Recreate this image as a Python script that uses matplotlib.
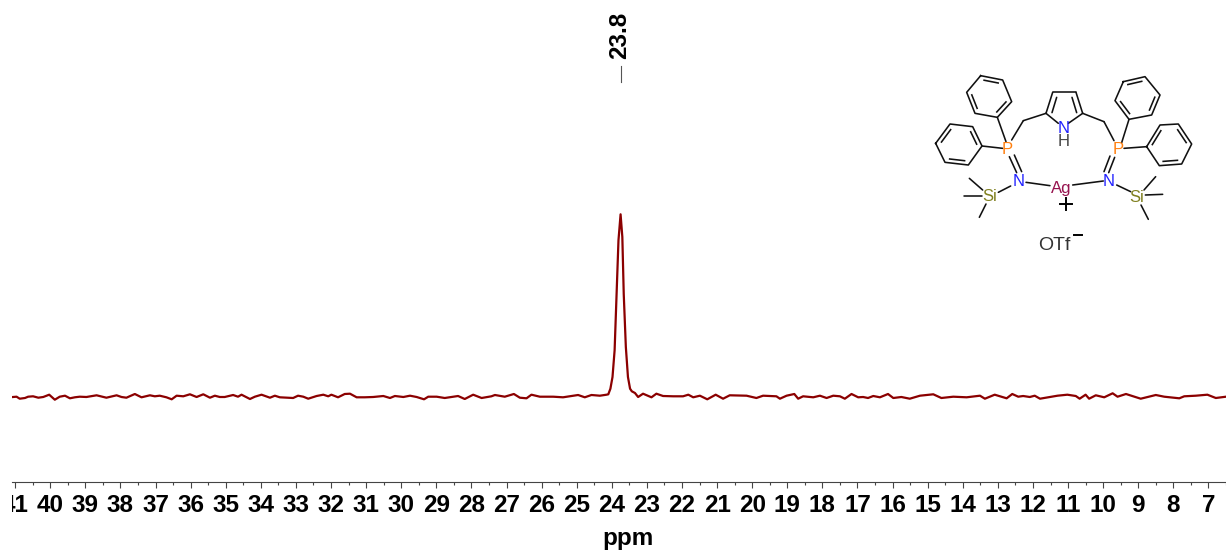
import numpy as np
import matplotlib
matplotlib.use("Agg")
import matplotlib.pyplot as plt
from matplotlib.ticker import MultipleLocator
from matplotlib.transforms import Bbox, TransformedBbox

plt.rcParams["font.family"] = ["Liberation Sans", "DejaVu Sans"]

# trace, intensity in arbitrary units above the baseline
ppm_left = [41.06, 40.96, 40.87, 40.72, 40.63, 40.49, 40.34, 40.20, 40.03, 39.87, 39.73, 39.58, 39.44, 39.30, 39.16,
            38.97, 38.68, 38.40, 38.11, 37.97, 37.83, 37.59, 37.40, 37.16, 37.02, 36.88, 36.69, 36.54, 36.40, 36.21,
            36.02, 35.83, 35.64, 35.45, 35.31, 35.17, 35.03, 34.79, 34.65, 34.55, 34.31, 34.17, 33.98, 33.74, 33.60,
            33.46, 33.08, 32.94, 32.79, 32.65, 32.41, 32.22, 32.08, 31.99, 31.80, 31.61, 31.46, 31.27, 31.04, 30.80,
            30.51, 30.32, 30.18, 29.94, 29.75, 29.56, 29.35, 29.23, 28.99, 28.76, 28.52, 28.38, 28.19, 27.95, 27.71,
            27.43, 27.33, 27.05, 26.79, 26.62, 26.43, 26.29, 26.05, 25.67, 25.39, 24.96, 24.77, 24.58, 24.34, 24.15]
int_left = [0, 0.3, -1.7, -1, 0.3, 0.7, -0.7, 0, 2.3, -2.7, 0.3, 1.3, -1.3, -0.3, 0.3,
            0, 1.7, -0.7, 1.7, 0, -0.7, 3, -0.3, 1.7, 0.7, 1.3, -0.3, -2.3, 1.3, 0.7,
            2.7, 0, 2.7, -0.7, 1.3, 0, 0, 2, 0.3, 2.3, -2, 0.3, 2.3, -0.7, 1.3,
            -0.3, -1, 1.3, 0.3, -1.7, 1, 2.3, 0.7, 2.3, -0.3, 3, 3.3, -0.3, -0.3, 0,
            1, -1, 1, 0, 1.3, 0, -2.3, 0.3, 0.3, -1, 0.3, 1, -2, 2.3, -1,
            0.7, 2, 0.3, 3, -0.7, -1.3, 2.3, 0.3, 0.3, -0.3, 2, -0.3, 2, 1.3, 2.3]

ppm_peak = [24.10, 24.04, 23.98, 23.92, 23.87, 23.81, 23.75, 23.70, 23.66, 23.60, 23.54, 23.48, 23.43, 23.34, 23.25,
            23.11, 22.87, 22.73, 22.54]
int_peak = [2.7, 8.3, 20, 46.7, 96.7, 156.7, 182.7, 160, 103, 50, 20, 8.3, 5.7, 4, 0,
            3.3, -0.3, 3.3, 1]

ppm_right = [22.25, 21.97, 21.82, 21.68, 21.49, 21.28, 21.04, 20.83, 20.64, 20.16, 19.88, 19.69, 19.31, 19.21, 19.02,
             18.80, 18.69, 18.55, 18.26, 18.07, 17.88, 17.69, 17.50, 17.36, 17.17, 16.98, 16.84, 16.70, 16.55, 16.36,
             16.13, 15.98, 15.75, 15.51, 15.22, 14.84, 14.61, 14.27, 13.89, 13.51, 13.37, 13.09, 12.75, 12.59, 12.42,
             12.28, 12.09, 11.95, 11.80, 11.52, 11.30, 11.02, 10.78, 10.67, 10.50, 10.40, 10.21, 9.97, 9.73, 9.59,
             9.35, 8.93, 8.50, 8.26, 7.83, 7.69, 7.36, 7.03, 6.79, 6.50]
int_right = [0.7, 0.7, 2.3, -0.3, 1.3, -2.3, 2.3, -1.7, 1.7, 1.3, -1, 1.3, 0.7, -1.7 + 0, 1.3,
             3, -1.7, 0.7, -0.3, 1.3, -1, 1.3, 0.7, -1.7, 3, -0.3, 0, -1, 1, -0.3,
             3, -1, 0, -1.7, 1.3, 2.7, -1, 0.3, -0.3, 1.3, -1.7, 2.3, -1.3, 3, 0.3,
             1, 0, 1.3, -1.7, 0, 1.3, 2.3, 1, -1.7, 2.3, -1.7, 1.7, -0.3, 3.7, 0.3,
             3, -1.7, 2, 0.3, -1.3, 0.7, 1.3, 2.3, -1, 0.3]

peak_label = "23.8"
peak_pos = 23.75

ppm = ppm_left + ppm_peak + ppm_right
intensity = int_left + int_peak + int_right

W, H = 1226, 553
fig = plt.figure(figsize=(W / 100, H / 100), dpi=100)

# axis runs from x=12 to the right edge, spine at y=481.7, 1 unit = 1 px
ax = fig.add_axes([12 / W, (H - 481.7) / H, (W - 12) / W, 481.7 / H])
ax.plot(ppm, intensity, color="#8b0000", lw=1.6, solid_joinstyle="round")
ax.set_xlim(41.09, 6.50)
ax.set_ylim(-84.7, 397)

for s in ["top", "left", "right"]:
    ax.spines[s].set_visible(False)
ax.spines["bottom"].set_color("#444444")
ax.spines["bottom"].set_linewidth(0.8)
ax.yaxis.set_visible(False)
ax.patch.set_alpha(0)

ax.xaxis.set_major_locator(MultipleLocator(1))
ax.xaxis.set_minor_locator(MultipleLocator(0.5))
ax.xaxis.set_major_formatter(lambda v, p: f"{v:.0f}")
ax.tick_params(axis="x", which="major", length=4.6, width=0.8, color="#444444", labelsize=17.5, pad=4.5)
ax.tick_params(axis="x", which="minor", length=2.5, width=0.8, color="#444444")

clip = TransformedBbox(Bbox([[12 / W, 0], [1, 1]]), fig.transFigure)
for lab in ax.get_xticklabels():
    lab.set_fontweight("bold")
    lab.set_clip_box(clip)
    lab.set_clip_on(True)

ax.set_xlabel("ppm", fontsize=17.5, fontweight="bold", labelpad=7, x=(628 - 12) / (W - 12))

# peak pick
ax.plot([peak_pos, peak_pos], [315, 331], color="#555555", lw=0.8, clip_on=False)
ax.text(peak_pos + 0.03, 338, peak_label, rotation=90, fontsize=17.5, fontweight="bold",
        ha="center", va="bottom")

# structure, units are 1/3 px of the crop (920,60)-(1220,270)
mol = fig.add_axes([920 / W, (H - 270) / H, 300 / W, 210 / H])
mol.set_xlim(0, 900)
mol.set_ylim(630, 0)
mol.axis("off")

rings = [
    [(182, 47), (248, 60), (275, 125), (232, 172), (165, 160), (140, 97)],
    [(47, 250), (90, 192), (158, 200), (186, 258), (145, 315), (75, 307)],
    [(610, 65), (675, 50), (720, 105), (695, 165), (627, 178), (585, 122)],
    [(680, 260), (720, 195), (775, 192), (815, 252), (785, 312), (718, 317)],
]
bonds = [
    ((232, 172), (258, 245)), ((186, 258), (248, 265)), ((275, 240), (310, 182)), ((310, 182), (378, 160)),
    ((378, 160), (398, 97)), ((398, 97), (468, 97)), ((468, 97), (488, 160)),
    ((378, 160), (415, 190)), ((488, 160), (445, 190)),
    ((488, 160), (552, 185)), ((552, 185), (582, 242)),
    ((627, 178), (605, 248)), ((680, 260), (612, 265)),
    ((268, 290), (290, 338)), ((283, 285), (305, 335)),
    ((272, 378), (235, 397)), ((188, 390), (148, 355)), ((185, 407), (133, 407)), ((198, 432), (178, 472)),
    ((318, 367), (390, 377)), ((458, 375), (550, 363)),
    ((570, 288), (552, 335)), ((584, 292), (566, 338)),
    ((590, 375), (632, 395)), ((672, 390), (707, 350)), ((676, 405), (728, 403)), ((663, 435), (685, 478)),
    # inner lines of the pyrrole
    ((396, 158), (410, 112)), ((470, 158), (456, 112)),
]
atoms = [
    ("P", 262, 267, "#ff8010"), ("P", 595, 267, "#ff8010"),
    ("N", 296, 365, "#2222ff"), ("N", 566, 365, "#2222ff"), ("N", 430, 207, "#2222ff"),
    ("H", 430, 245, "#444444"),
    ("Si", 210, 410, "#808020"), ("Si", 650, 412, "#808020"),
    ("Ag", 425, 385, "#97144f"),
]

for a, b in bonds:
    mol.plot([a[0], b[0]], [a[1], b[1]], color="#111111", lw=1.15, solid_capstyle="round")

for ring in rings:
    pts = np.array(ring + ring[:1], dtype=float)
    mol.plot(pts[:, 0], pts[:, 1], color="#111111", lw=1.15, solid_joinstyle="round")
    c = pts[:-1].mean(axis=0)
    for i in [0, 2, 4]:
        p = pts[i] + (c - pts[i]) * 0.2
        q = pts[i + 1] + (c - pts[i + 1]) * 0.2
        p, q = p + (q - p) * 0.1, q + (p - q) * 0.1
        mol.plot([p[0], q[0]], [p[1], q[1]], color="#111111", lw=1.15)

for name, x, y, col in atoms:
    mol.text(x, y, name, color=col, fontsize=12, ha="center", va="center")

mol.plot([420, 456], [433, 433], color="black", lw=1.4)
mol.plot([437, 437], [415, 451], color="black", lw=1.4)
mol.text(403, 556, "OTf", fontsize=14, color="#333333", ha="center", va="center")
mol.plot([462, 485], [525, 525], color="black", lw=1.4)

fig.savefig("out.png", dpi=100)
